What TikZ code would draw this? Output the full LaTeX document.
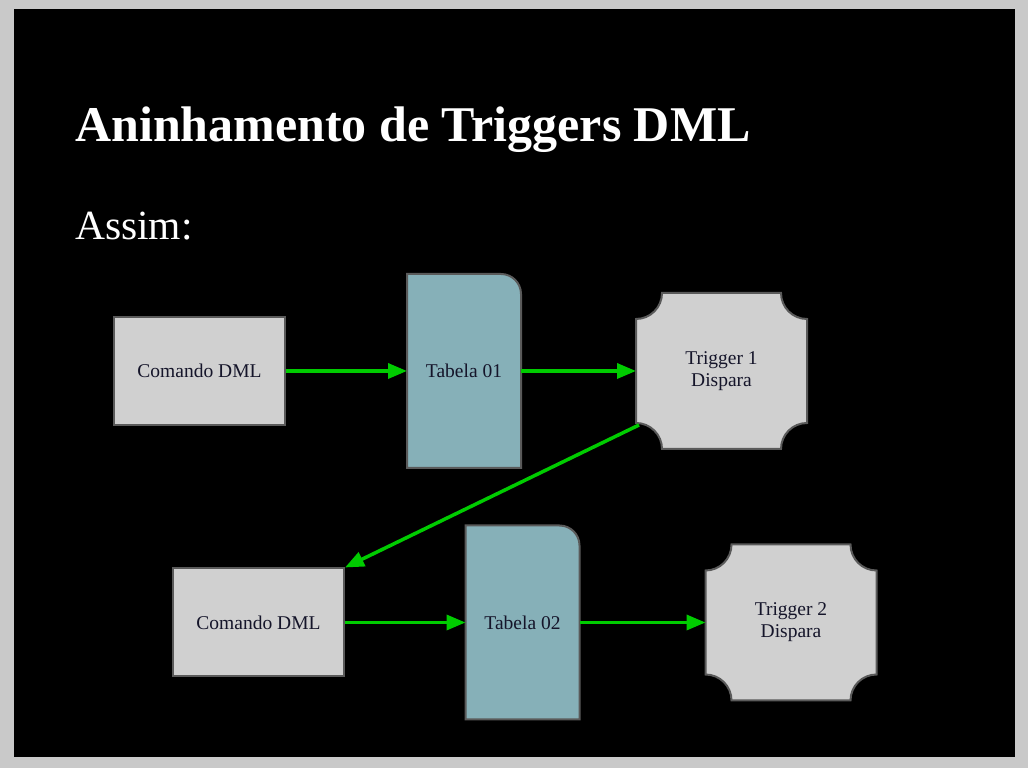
\documentclass[tikz,border=0pt]{standalone}
\usepackage{fontspec}
\setmainfont{Liberation Serif}
\usetikzlibrary{arrows.meta,calc,backgrounds}
\definecolor{framegray}{HTML}{C9C9C9}
\definecolor{boxgray}{HTML}{D0D0D0}
\definecolor{edgegray}{HTML}{5A5A5A}
\definecolor{tabteal}{HTML}{86B0B8}
\definecolor{arrowgreen}{HTML}{00CC00}
\definecolor{labelink}{HTML}{15152A}
\tikzset{x=1pt,y=1pt,
  label font/.style={text=labelink,font=\fontsize{19.5}{22}\selectfont},
  cmdbox/.style={draw=edgegray,line width=2pt,fill=boxgray,minimum width=171pt,minimum height=108pt,label font},
  tabbox/.style={minimum width=114pt,minimum height=194pt,outer sep=0pt,label font},
  trigbox/.style={minimum width=171pt,minimum height=156pt,outer sep=0pt,align=center,label font},
  tabshape/.style={draw=edgegray,line width=2pt,fill=tabteal},
  trigshape/.style={draw=edgegray,line width=2pt,fill=boxgray},
  flow/.style={draw=arrowgreen,line width=3.5pt,-{Triangle[length=19pt,width=15pt]}}}

\begin{document}
\begin{tikzpicture}
            \useasboundingbox (0,0) rectangle (1028,768);

            \node[anchor=base west,inner sep=0pt,text=white,font=\fontsize{50}{58}\selectfont\bfseries] (title) at (75,626) {Aninhamento de Triggers DML};
            \node[anchor=base west,inner sep=0pt,text=white,font=\fontsize{41.5}{48}\selectfont] (assim) at (75,528) {Assim:};

            % first row
            \node[cmdbox] (c1) at (199.5,397) {Comando DML};
            \node[tabbox] (t1) at (464,397) {Tabela 01};
            \node[trigbox] (g1) at (721.5,397) {Trigger 1\\Dispara};

            % second row
            \node[cmdbox] (c2) at (258.5,145.5) {Comando DML};
            \node[tabbox] (t2) at (522.5,145.5) {Tabela 02};
            \node[trigbox] (g2) at (791,145.5) {Trigger 2\\Dispara};

            \begin{scope}[on background layer]
                \fill[framegray] (0,0) rectangle (1028,768);
                \fill[black] (14,11) rectangle (1015,759);
                \foreach \n in {t1,t2}
                    \draw[tabshape] (\n.south west) -- (\n.north west) -- ($(\n.north east)+(-20,0)$)
                        arc[start angle=90,end angle=0,radius=20] -- (\n.south east) -- cycle;
                \foreach \n in {g1,g2}
                    \draw[trigshape] ($(\n.north west)+(0,-26)$) arc[start angle=270,end angle=360,radius=26]
                        -- ($(\n.north east)+(-26,0)$) arc[start angle=180,end angle=270,radius=26]
                        -- ($(\n.south east)+(0,26)$) arc[start angle=90,end angle=180,radius=26]
                        -- ($(\n.south west)+(26,0)$) arc[start angle=0,end angle=90,radius=26] -- cycle;
            \end{scope}

            \draw[flow] (c1) -- (t1);
            \draw[flow] (t1) -- (g1);
            \draw[flow] ($(g1.south west)+(3,24)$) -- (c2.north east);
            \draw[flow] (c2) -- (t2);
            \draw[flow] (t2) -- (g2);
        \end{tikzpicture}
\end{document}
